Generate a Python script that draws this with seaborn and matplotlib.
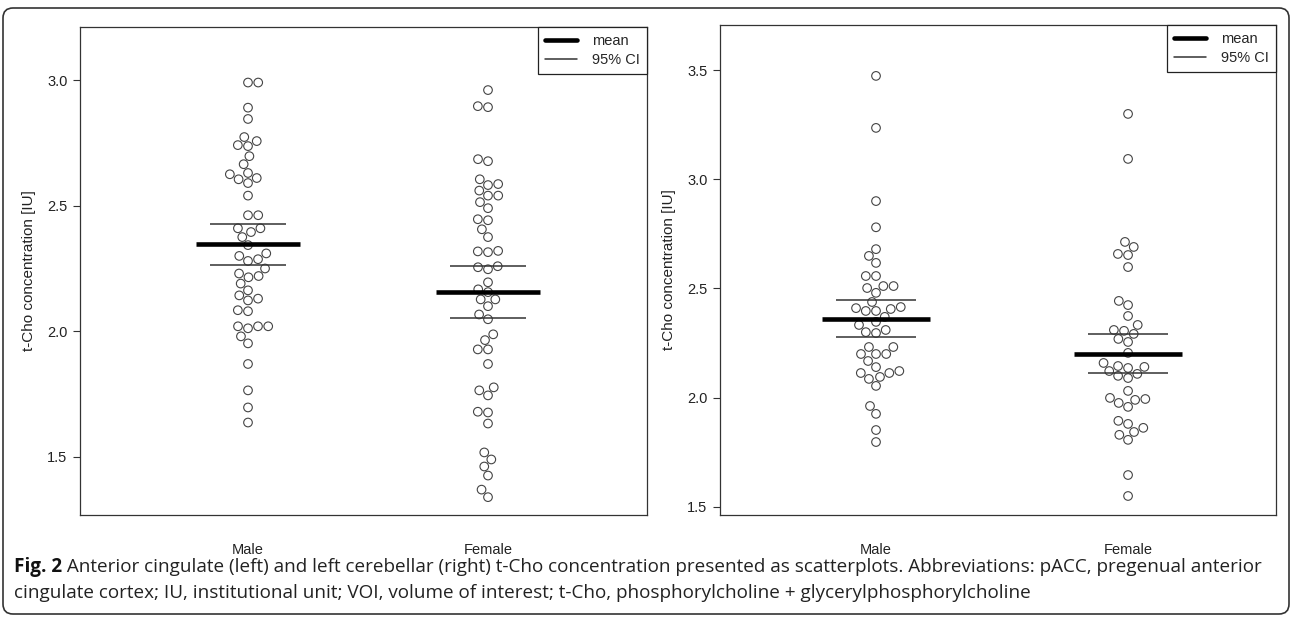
import numpy as np
import pandas as pd
import matplotlib
matplotlib.use("Agg")
import matplotlib.pyplot as plt
import seaborn as sns
from matplotlib.lines import Line2D
from matplotlib.patches import FancyBboxPatch

groups = ["Male", "Female"]

# anterior cingulate (left panel)
acc_male = [2.99, 2.99, 2.89, 2.845, 2.773, 2.757, 2.741, 2.737, 2.697, 2.665,
            2.63, 2.625, 2.61, 2.605, 2.59, 2.54, 2.462, 2.462, 2.41, 2.41,
            2.395, 2.375, 2.343, 2.31, 2.30, 2.287, 2.28, 2.25, 2.23, 2.22,
            2.215, 2.19, 2.163, 2.143, 2.13, 2.123, 2.084, 2.08, 2.02, 2.02,
            2.02, 2.012, 1.98, 1.952, 1.87, 1.765, 1.697, 1.637]
acc_female = [2.96, 2.896, 2.892, 2.685, 2.677, 2.605, 2.586, 2.582, 2.56, 2.54,
              2.54, 2.514, 2.49, 2.446, 2.442, 2.406, 2.375, 2.32, 2.318, 2.315,
              2.259, 2.255, 2.247, 2.195, 2.167, 2.156, 2.127, 2.127, 2.10, 2.067,
              2.048, 1.988, 1.965, 1.928, 1.928, 1.87, 1.777, 1.765, 1.745, 1.68,
              1.677, 1.633, 1.518, 1.49, 1.462, 1.426, 1.37, 1.34]
acc_mean = [2.347, 2.157]
acc_ci_low = [2.264, 2.052]
acc_ci_high = [2.426, 2.259]
acc_ticks = [1.5, 2.0, 2.5, 3.0]

# left cerebellum (right panel)
cer_male = [3.473, 3.235, 2.90, 2.78, 2.68, 2.649, 2.617, 2.557, 2.557, 2.511,
            2.511, 2.502, 2.48, 2.438, 2.415, 2.41, 2.406, 2.397, 2.397, 2.37,
            2.347, 2.333, 2.31, 2.30, 2.296, 2.232, 2.232, 2.20, 2.20, 2.20,
            2.168, 2.14, 2.122, 2.113, 2.113, 2.095, 2.086, 2.054, 1.962, 1.926,
            1.852, 1.797]
cer_female = [3.299, 3.093, 2.713, 2.69, 2.658, 2.653, 2.598, 2.443, 2.424, 2.374,
              2.333, 2.31, 2.306, 2.292, 2.269, 2.255, 2.205, 2.159, 2.145, 2.141,
              2.136, 2.122, 2.109, 2.10, 2.09, 2.031, 1.999, 1.994, 1.99, 1.976,
              1.958, 1.894, 1.88, 1.862, 1.843, 1.83, 1.807, 1.646, 1.55]
cer_mean = [2.362, 2.200]
cer_ci_low = [2.277, 2.113]
cer_ci_high = [2.446, 2.293]
cer_ticks = [1.5, 2.0, 2.5, 3.0, 3.5]

ylabel = "t-Cho concentration [IU]"
caption_bold = "Fig. 2"
caption_line1 = (" Anterior cingulate (left) and left cerebellar (right) t-Cho concentration "
                 "presented as scatterplots. Abbreviations: pACC, pregenual anterior")
caption_line2 = ("cingulate cortex; IU, institutional unit; VOI, volume of interest; "
                 "t-Cho, phosphorylcholine + glycerylphosphorylcholine")

sns.set_theme(style="ticks")
plt.rcParams["font.family"] = ["Liberation Sans", "DejaVu Sans"]

W, H = 1292, 620
fig = plt.figure(figsize=(W / 100, H / 100), dpi=100)


def px_axes(x0, y0, x1, y1):
    return fig.add_axes([x0 / W, 1 - y1 / H, (x1 - x0) / W, (y1 - y0) / H])


def draw_panel(ax, male, female, means, lo, hi, ticks, ylim, xlim):
    df = pd.DataFrame({"sex": ["Male"] * len(male) + ["Female"] * len(female),
                       "tcho": male + female})
    sns.swarmplot(data=df, x="sex", y="tcho", order=groups, ax=ax, size=6.2,
                  facecolor="none", edgecolor="#444444", linewidth=0.8)
    pos = np.arange(len(groups))
    ax.hlines(means, pos - 0.215, pos + 0.215, color="black", linewidth=3.3, zorder=3)
    ax.hlines(lo, pos - 0.157, pos + 0.157, color="#333333", linewidth=1.1, zorder=3)
    ax.hlines(hi, pos - 0.157, pos + 0.157, color="#333333", linewidth=1.1, zorder=3)
    ax.set_xlim(*xlim)
    ax.set_ylim(*ylim)
    ax.set_yticks(ticks)
    ax.set_yticklabels([f"{t:.1f}" for t in ticks])
    ax.set_xlabel("")
    ax.set_ylabel(ylabel, fontsize=11, color="#222222", labelpad=8)
    for s in ax.spines.values():
        s.set_visible(True)
        s.set_color("#333333")
        s.set_linewidth(0.9)
    ax.tick_params(axis="y", length=5, width=0.8, color="#333333", pad=4,
                   labelsize=10.5, labelcolor="#222222")
    ax.tick_params(axis="x", length=0, pad=20, labelsize=10.5, labelcolor="#222222")
    handles = [Line2D([], [], color="black", lw=3.3),
               Line2D([], [], color="#333333", lw=1.1)]
    leg = ax.legend(handles, ["mean", "95% CI"], loc="upper right", borderaxespad=0,
                    fancybox=False, edgecolor="#222222", framealpha=1, fontsize=10.5,
                    handlelength=2.2, handletextpad=1.0, borderpad=0.5,
                    labelspacing=0.3)
    leg.get_frame().set_linewidth(0.9)


ax1 = px_axes(80, 27, 647, 515)
draw_panel(ax1, acc_male, acc_female, acc_mean, acc_ci_low, acc_ci_high,
           acc_ticks, (1.269, 3.211), (-0.70, 1.6625))

ax2 = px_axes(720, 25, 1276, 515)
draw_panel(ax2, cer_male, cer_female, cer_mean, cer_ci_low, cer_ci_high,
           cer_ticks, (1.463, 3.706), (-0.619, 1.587))

# outer frame around figure and caption
frame = FancyBboxPatch((3 / 100, 6 / 100), (W - 6) / 100, (H - 14) / 100,
                       boxstyle="round,pad=0,rounding_size=0.1",
                       transform=fig.dpi_scale_trans, fill=False,
                       edgecolor="#333333", linewidth=1.2)
fig.patches.append(frame)

cap_font = ["Open Sans", "DejaVu Sans"]
t_bold = fig.text(14 / W, 1 - 572 / H, caption_bold, fontsize=13.6, fontweight="bold",
                  family=cap_font, color="#111111", va="baseline")
fig.canvas.draw()
bb = t_bold.get_window_extent()
fig.text(bb.x1 / W, 1 - 572 / H, caption_line1, fontsize=13.6, family=cap_font,
         color="#222222", va="baseline")
fig.text(14 / W, 1 - 598 / H, caption_line2, fontsize=13.6, family=cap_font,
         color="#222222", va="baseline")

fig.savefig("out.png", dpi=100)
